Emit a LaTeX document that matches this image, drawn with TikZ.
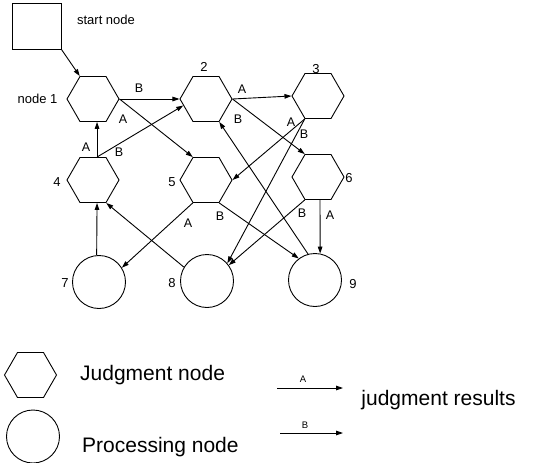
\documentclass[tikz,border=0pt]{standalone}
\usepackage{fontspec}
\setmainfont{Liberation Sans}
\usetikzlibrary{shapes.geometric,arrows.meta}
\tikzset{
  hexnode/.style={draw, regular polygon, regular polygon sides=6, minimum size=52pt, inner sep=0pt, line width=0.9pt},
  procnode/.style={draw, circle, minimum size=53pt, inner sep=0pt, line width=0.9pt},
  startbox/.style={draw, rectangle, minimum width=49pt, minimum height=46pt, inner sep=0pt, line width=0.9pt},
  conn/.style={line width=0.9pt, -{Triangle[length=7pt,width=4.6pt]}},
  tag/.style={inner sep=0pt, font=\fontsize{13}{15}\selectfont},
  res/.style={inner sep=0pt, font=\fontsize{12.5}{15}\selectfont},
  legtext/.style={inner sep=0pt, anchor=west, font=\fontsize{21}{25}\selectfont},
  legres/.style={inner sep=0pt, font=\fontsize{9.5}{11}\selectfont}
}
\begin{document}
\begin{tikzpicture}[x=1pt,y=-1pt]
\useasboundingbox (0,0) rectangle (557,463);

% start box
\node[startbox] (s) at (36.5,26) {};
\node[tag] (stxt) at (106,20) {start node};

% judgment nodes
\node[hexnode] (n1) at (93,99) {};
\node[hexnode] (n2) at (206,99) {};
\node[hexnode] (n3) at (318,96) {};
\node[hexnode] (n4) at (93,180) {};
\node[hexnode] (n5) at (206,180) {};
\node[hexnode] (n6) at (318,177) {};

% processing nodes
\node[procnode] (n7) at (99,282) {};
\node[procnode] (n8) at (207,281) {};
\node[procnode] (n9) at (315,280) {};

% node labels
\node[tag] (l1) at (37.5,99) {node 1};
\node[tag] (l2) at (204,67) {2};
\node[tag] (l3) at (316,69) {3};
\node[tag] (l4) at (57,182) {4};
\node[tag] (l5) at (172,182) {5};
\node[tag] (l6) at (349,178) {6};
\node[tag] (l7) at (65,283) {7};
\node[tag] (l8) at (172,283) {8};
\node[tag] (l9) at (353,284) {9};

% connectors
\draw[conn] (s.south east) -- (n1.120);
\draw[conn] (n1.east) -- (n2.west);
\draw[conn] (n1.east) -- (n5.120);
\draw[conn] (n4.80) -- (n1.280);
\draw[conn] (n4.80) -- (n2.196);
\draw[conn] (n2.east) -- (n3.west);
\draw[conn] (n2.east) -- (n6.120);
\draw[conn] (n3.240) -- (n5.east);
\draw[conn] (n3.240) -- (n8.41);
\draw[conn] (n6.240) -- (n8.36);
\draw[conn] (n6.275) -- (n9.79);
\draw[conn] (n5.240) -- (n7.32);
\draw[conn] (n5.300) -- (n9.127);
\draw[conn] (n8.149) -- (n4.300);
\draw[conn] (n7.95) -- (n4.280);
\draw[conn] (n9.105) -- (n2.300);

% result labels
\node[res] (r12) at (139,88) {B};
\node[res] (r15) at (123,119) {A};
\node[res] (r41) at (86,147) {A};
\node[res] (r42) at (119,152) {B};
\node[res] (r23) at (242,89) {A};
\node[res] (r26) at (238,119) {B};
\node[res] (r35) at (291,122) {A};
\node[res] (r38) at (304,134) {B};
\node[res] (r68) at (302,213) {B};
\node[res] (r69) at (330,215) {A};
\node[res] (r57) at (188,223) {A};
\node[res] (r59) at (220,216) {B};

% legend
\node[hexnode] (kh) at (30.5,375) {};
\node[procnode] (kc) at (33,436.5) {};
\node[legtext] (kht) at (80,375) {Judgment node};
\node[legtext] (kct) at (82,447) {Processing node};
\coordinate (ka1) at (277,388);
\coordinate (ka2) at (343,388);
\coordinate (kb1) at (280,433);
\coordinate (kb2) at (343,433);
\draw[conn] (ka1) -- (ka2);
\draw[conn] (kb1) -- (kb2);
\node[legres] (kal) at (303,379) {A};
\node[legres] (kbl) at (305,425) {B};
\node[legtext, anchor=center] (kres) at (438.5,400) {judgment results};
\end{tikzpicture}
\end{document}
